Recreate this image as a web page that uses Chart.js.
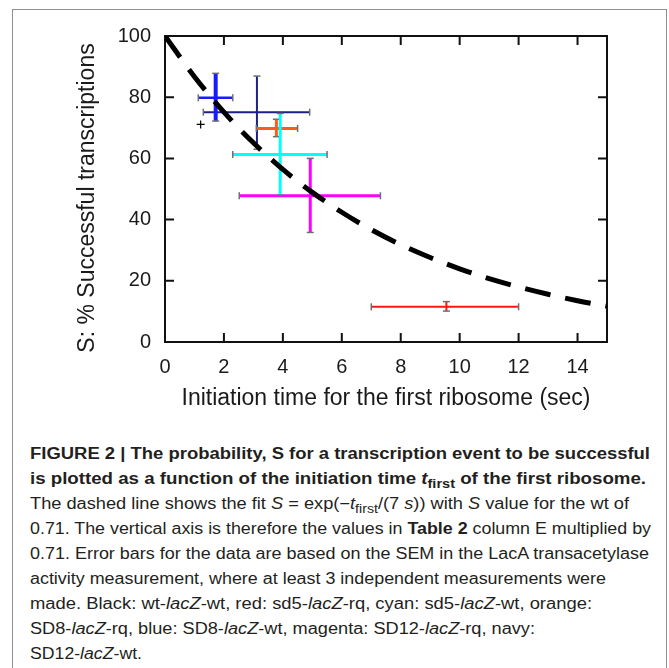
<!DOCTYPE html>
<html>
<head>
<meta charset="utf-8">
<script src="https://cdn.jsdelivr.net/npm/chart.js@4.4.1/dist/chart.umd.min.js"></script>
<style>
    html, body { margin: 0; padding: 0; background: #fff; }
    body {
        width: 669px; height: 668px; position: relative; overflow: hidden;
        font-family: "Liberation Sans", Arial, sans-serif;
    }
    #frame {
        position: absolute; left: 12px; top: 9px; width: 655px; height: 700px;
        border: 1.5px solid #8f8f8f; border-bottom: none; box-sizing: border-box;
    }
    #chartBox { position: absolute; left: 0; top: 0; width: 669px; height: 420px; }
    #caption {
        position: absolute; left: 30px; top: 441px;
        font-size: 16px; line-height: 25px; color: #231f20;
    }
    #caption .ln { display: block; height: 25px; white-space: nowrap; }
    #caption .ln > span { display: inline-block; transform-origin: 0 0; }
    #caption .bold { font-weight: bold; }
    sub { font-size: 0.78em; vertical-align: -0.3em; line-height: 0; }
</style>
</head>
<body>
<div id="frame"></div>
<div id="chartBox"><canvas id="sChart" width="669" height="420"></canvas></div>

<div id="caption">
    <div class="ln bold"><span>FIGURE 2 | The probability, S for a transcription event to be successful</span></div>
    <div class="ln bold"><span>is plotted as a function of the initiation time <i>t</i><sub>first</sub> of the first ribosome.</span></div>
    <div class="ln"><span>The dashed line shows the fit <i>S</i> = exp(−<i>t</i><sub>first</sub>/(7 <i>s</i>)) with <i>S</i> value for the wt of</span></div>
    <div class="ln"><span>0.71. The vertical axis is therefore the values in <b>Table 2</b> column E multiplied by</span></div>
    <div class="ln"><span>0.71. Error bars for the data are based on the SEM in the LacA transacetylase</span></div>
    <div class="ln"><span>activity measurement, where at least 3 independent measurements were</span></div>
    <div class="ln"><span>made. Black: wt-<i>lacZ</i>-wt, red: sd5-<i>lacZ</i>-rq, cyan: sd5-<i>lacZ</i>-wt, orange:</span></div>
    <div class="ln"><span>SD8-<i>lacZ</i>-rq, blue: SD8-<i>lacZ</i>-wt, magenta: SD12-<i>lacZ</i>-rq, navy:</span></div>
    <div class="ln"><span>SD12-<i>lacZ</i>-wt.</span></div>
</div>

<script>
(function () {
    'use strict';

    // ============================================================
    // DATA
    // ============================================================
    const seriesNames = ['wt-lacZ-wt', 'sd5-lacZ-rq', 'sd5-lacZ-wt', 'SD8-lacZ-rq',
                         'SD8-lacZ-wt', 'SD12-lacZ-rq', 'SD12-lacZ-wt'];

    // initiation time of the first ribosome (sec) and its error range
    const tFirst = [1.21, 9.55, 3.91, 3.78, 1.72, 4.93, 3.12];
    const tLow   = [null, 7.00, 2.30, 3.10, 1.13, 2.52, 1.30];
    const tHigh  = [null, 12.00, 5.50, 4.50, 2.30, 7.31, 4.91];

    // S: % successful transcriptions and its error range
    const sValue = [71.1, 11.5, 61.3, 69.8, 79.8, 47.8, 75.1];
    const sLow   = [null, 10.1, 48.0, 67.1, 72.2, 35.8, 63.0];
    const sHigh  = [null, 13.2, 74.7, 72.8, 87.8, 60.0, 86.9];

    // dashed fit curve
    const fitTime = [0, 1, 2, 3, 4, 5, 6, 7, 8, 9, 10, 11, 12, 13, 14, 15];
    const fitS    = [100, 86.7, 75.1, 65.1, 56.4, 48.9, 42.4, 36.7, 31.8, 27.6, 23.9, 20.7, 18.0, 15.6, 13.5, 11.7];

    // tick labels
    const xTicks = [0, 2, 4, 6, 8, 10, 12, 14];
    const yTicks = [0, 20, 40, 60, 80, 100];

    // ============================================================
    // STYLES
    // ============================================================
    const barStyle = [
        { colour: '#000000' },
        { colour: '#ff1414', h: 2, v: 2 },
        { colour: '#00ffff', h: 3, v: 3 },
        { colour: '#ff5c1c', h: 3, v: 3 },
        { colour: '#1a1aff', h: 2.5, v: 4 },
        { colour: '#ff00ff', h: 3, v: 3 },
        { colour: '#1c2088', h: 2, v: 2 }
    ];
    const capColour = '#6e6e6e';
    const textColour = '#1a1a1a';
    const fontFamily = '"Liberation Sans", Arial, sans-serif';

    // ============================================================
    // DATASETS
    // ============================================================
    const datasets = [{
        label: 'fit',
        data: fitTime.map((t, i) => ({ x: t, y: fitS[i] })),
        borderColor: '#000',
        borderWidth: 5,
        borderDash: [26, 15],
        borderCapStyle: 'butt',
        cubicInterpolationMode: 'monotone',
        pointRadius: 0,
        order: 0
    }];

    seriesNames.forEach((name, i) => {
        const st = barStyle[i];
        if (tLow[i] == null) {
            datasets.push({
                label: name,
                data: [{ x: tFirst[i], y: sValue[i] }],
                showLine: false,
                pointStyle: 'cross',
                pointRadius: 4,
                pointBorderColor: st.colour,
                pointBorderWidth: 1.2,
                order: 1
            });
            return;
        }
        // horizontal bar (time error)
        datasets.push({
            label: name + ' t',
            data: [{ x: tLow[i], y: sValue[i] }, { x: tHigh[i], y: sValue[i] }],
            borderColor: st.colour,
            borderWidth: st.h,
            pointStyle: 'line',
            pointRotation: 90,
            pointRadius: 3.5,
            pointBorderColor: capColour,
            pointBorderWidth: 1.5,
            order: 1
        });
        // vertical bar (S error)
        datasets.push({
            label: name + ' S',
            data: [{ x: tFirst[i], y: sLow[i] }, { x: tFirst[i], y: sHigh[i] }],
            borderColor: st.colour,
            borderWidth: st.v,
            pointStyle: 'line',
            pointRotation: 0,
            pointRadius: 3.5,
            pointBorderColor: capColour,
            pointBorderWidth: 1.5,
            order: 1
        });
    });

    // ============================================================
    // PLUGIN: boxed frame with inward mirror ticks + y title
    // ============================================================
    const frameTicks = {
        id: 'frameTicks',
        beforeDatasetsDraw(chart) {
            const { ctx, chartArea: a, scales: { x, y } } = chart;
            const len = 9;
            ctx.save();
            ctx.strokeStyle = '#111';
            ctx.lineWidth = 2;
            ctx.strokeRect(a.left, a.top, a.right - a.left, a.bottom - a.top);
            ctx.beginPath();
            xTicks.forEach(v => {
                const px = x.getPixelForValue(v);
                ctx.moveTo(px, a.bottom); ctx.lineTo(px, a.bottom - len);
                ctx.moveTo(px, a.top); ctx.lineTo(px, a.top + len);
            });
            yTicks.forEach(v => {
                const py = y.getPixelForValue(v);
                ctx.moveTo(a.left, py); ctx.lineTo(a.left + len, py);
                ctx.moveTo(a.right, py); ctx.lineTo(a.right - len, py);
            });
            ctx.stroke();

            // y axis title
            ctx.translate(88, (a.top + a.bottom) / 2 + 9);
            ctx.rotate(-Math.PI / 2);
            ctx.font = '23px ' + fontFamily;
            ctx.fillStyle = textColour;
            ctx.textAlign = 'center';
            ctx.textBaseline = 'middle';
            ctx.fillText('S: % Successful transcriptions', 0, 0);
            ctx.restore();
        }
    };

    // ============================================================
    // CHART
    // ============================================================
    new Chart(document.getElementById('sChart'), {
        type: 'line',
        data: { datasets: datasets },
        options: {
            responsive: false,
            animation: false,
            layout: { padding: { top: 36, right: 62, bottom: 0, left: 0 } },
            plugins: {
                legend: { display: false },
                tooltip: { enabled: false }
            },
            scales: {
                x: {
                    type: 'linear',
                    min: 0,
                    max: 15,
                    grid: { display: false, drawTicks: false },
                    border: { display: false },
                    ticks: {
                        stepSize: 2,
                        includeBounds: false,
                        maxRotation: 0,
                        padding: 13,
                        color: textColour,
                        font: { size: 20, family: fontFamily }
                    },
                    title: {
                        display: true,
                        text: 'Initiation time for the first ribosome (sec)',
                        color: textColour,
                        font: { size: 23, family: fontFamily },
                        padding: { top: 0, bottom: 8 }
                    },
                    afterFit: (s) => { s.height = 78; }
                },
                y: {
                    type: 'linear',
                    min: 0,
                    max: 100,
                    grid: { display: false, drawTicks: false },
                    border: { display: false },
                    ticks: {
                        stepSize: 20,
                        padding: 14,
                        color: textColour,
                        font: { size: 20, family: fontFamily }
                    },
                    afterFit: (s) => { s.width = 165; }
                }
            }
        },
        plugins: [frameTicks]
    });

    // ============================================================
    // CAPTION: squeeze each line to the width it has in the figure
    // ============================================================
    const captionLeft = 30;
    const captionEnds = [650, 646, 629, 651, 649, 606, 592, 535, 142];
    document.querySelectorAll('#caption .ln > span').forEach((el, i) => {
        const w = el.getBoundingClientRect().width;
        el.style.transform = 'scaleX(' + ((captionEnds[i] - captionLeft) / w) + ')';
    });
})();
</script>
</body>
</html>
